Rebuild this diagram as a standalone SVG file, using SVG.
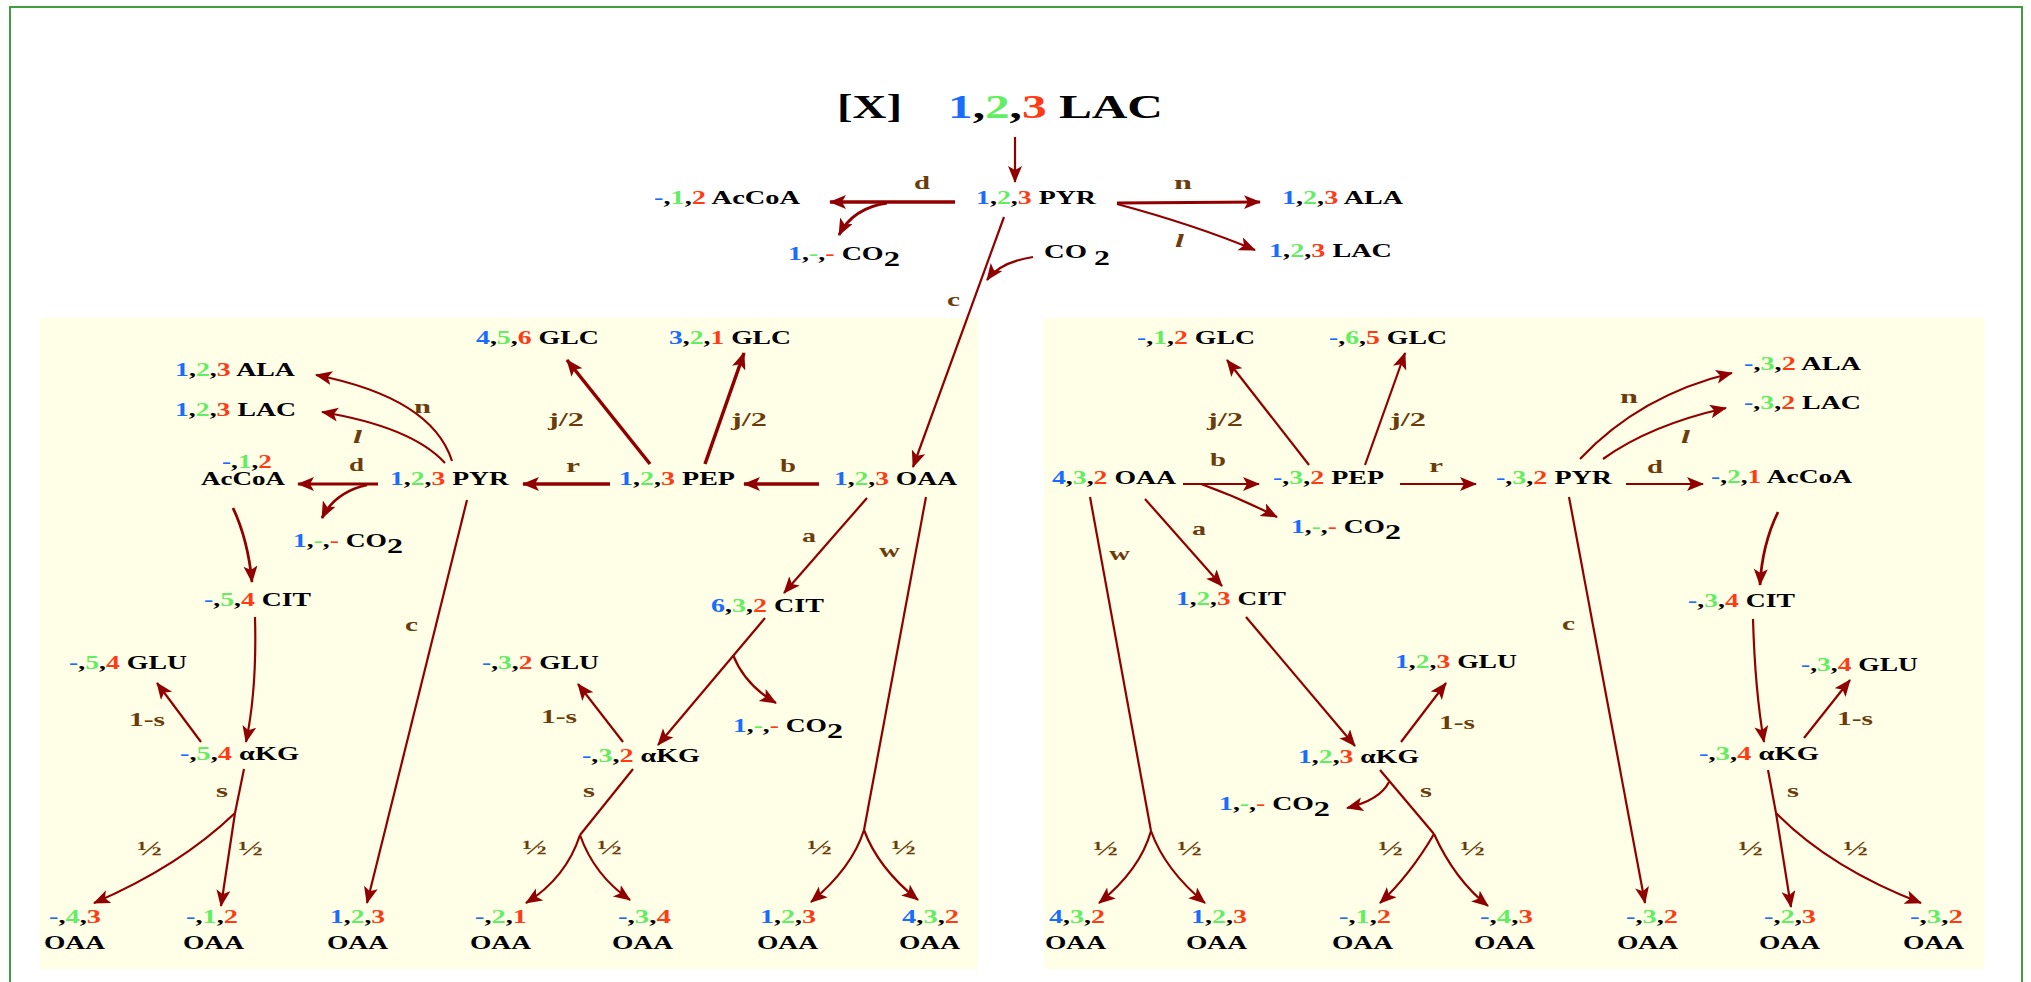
<svg xmlns="http://www.w3.org/2000/svg" width="2031" height="982" viewBox="0 0 2031 982">
  <defs>
    <style>
      text { font-family: "Liberation Serif", "Times New Roman", serif; font-weight: bold; font-size: 18px; fill: #000; }
      .big { font-size: 34px; }
      .b { fill: #1a6cff; }
      .g { fill: #62ee62; }
      .r { fill: #ff3b16; }
      .lb { fill: #6b3c0c; font-size: 19px; }
      .hf { fill: #6b3c0c; font-size: 22px; }
      .it { font-style: italic; }
      .ar { stroke: #900000; stroke-width: 2.2; fill: none; marker-end: url(#ah); }
      .tk { stroke-width: 3.5; }
      .md { stroke-width: 2.8; }
      .ln { stroke: #900000; stroke-width: 2.2; fill: none; }
      .panel { fill: #fffee6; }
    </style>
    <marker id="ah" markerUnits="userSpaceOnUse" markerWidth="20" markerHeight="16" refX="16" refY="7" orient="auto">
      <path d="M0,0 L17,7 L0,14 L4,7 Z" fill="#900000"/>
    </marker>
  </defs>

  <!-- frame and shaded panels -->
  <rect x="10" y="7" width="2012" height="1000" fill="#fff" stroke="#3f9e3f" stroke-width="2"/>
  <rect class="panel" x="40" y="318" width="938" height="651"/>
  <rect class="panel" x="1044" y="318" width="940" height="651"/>

  <!-- connectors -->
  <g id="connectors">
    <!-- top -->
    <line class="ar" x1="1015" y1="137" x2="1015" y2="182"/>
    <line class="ar tk" x1="955" y1="202" x2="830" y2="202"/>
    <path class="ar md" d="M887,203 Q853,208 839,235"/>
    <line class="ar md" x1="1117" y1="203" x2="1260" y2="202"/>
    <path class="ar" d="M1117,204 Q1195,225 1255,250"/>
    <line class="ar" x1="1004" y1="217" x2="913" y2="467"/>
    <path class="ar" d="M1033,257 Q1000,262 987,280"/>

    <!-- left panel -->
    <path class="ar" d="M452,461 Q432,398 316,375"/>
    <path class="ar" d="M445,463 Q412,427 322,412"/>
    <line class="ar md" x1="378" y1="484" x2="298" y2="484"/>
    <path class="ar md" d="M367,485 Q335,492 322,518"/>
    <line class="ar tk" x1="610" y1="484" x2="523" y2="484"/>
    <line class="ar tk" x1="650" y1="464" x2="567" y2="360"/>
    <line class="ar tk" x1="705" y1="464" x2="744" y2="353"/>
    <line class="ar tk" x1="819" y1="484" x2="744" y2="484"/>
    <line class="ar" x1="867" y1="498" x2="784" y2="593"/>
    <line class="ln" x1="926" y1="497" x2="864" y2="830"/>
    <path class="ar" d="M864,830 Q852,868 811,902"/>
    <path class="ar" d="M864,830 Q878,868 918,900"/>
    <path class="ar md" d="M233,508 Q248,540 252,582"/>
    <path class="ar" d="M255,617 Q257,690 246,742"/>
    <line class="ar" x1="201" y1="742" x2="157" y2="683"/>
    <line class="ln" x1="244" y1="769" x2="235" y2="813"/>
    <path class="ar" d="M235,813 Q180,866 94,903"/>
    <line class="ar" x1="235" y1="813" x2="221" y2="906"/>
    <line class="ar" x1="467" y1="500" x2="367" y2="903"/>
    <line class="ar" x1="765" y1="618" x2="658" y2="745"/>
    <path class="ar" d="M733,655 Q745,685 776,703"/>
    <line class="ar" x1="623" y1="742" x2="578" y2="684"/>
    <line class="ln" x1="633" y1="769" x2="580" y2="835"/>
    <path class="ar" d="M580,835 Q566,878 526,903"/>
    <path class="ar" d="M580,835 Q594,875 630,900"/>

    <!-- right panel -->
    <line class="ar" x1="1183" y1="484" x2="1259" y2="484"/>
    <path class="ar" d="M1201,484 Q1240,498 1277,517"/>
    <line class="ar" x1="1309" y1="465" x2="1227" y2="360"/>
    <line class="ar" x1="1365" y1="465" x2="1405" y2="353"/>
    <line class="ar" x1="1400" y1="484" x2="1476" y2="484"/>
    <line class="ar" x1="1145" y1="499" x2="1222" y2="586"/>
    <line class="ln" x1="1090" y1="497" x2="1151" y2="831"/>
    <path class="ar" d="M1151,831 Q1140,870 1099,903"/>
    <path class="ar" d="M1151,831 Q1165,870 1205,903"/>
    <line class="ar" x1="1246" y1="617" x2="1355" y2="746"/>
    <line class="ar" x1="1401" y1="742" x2="1446" y2="683"/>
    <path class="ar" d="M1389,782 Q1380,800 1347,808"/>
    <line class="ln" x1="1380" y1="770" x2="1434" y2="834"/>
    <path class="ar" d="M1434,834 Q1410,875 1380,903"/>
    <path class="ar" d="M1434,834 Q1455,880 1488,906"/>
    <line class="ar" x1="1569" y1="497" x2="1645" y2="903"/>
    <path class="ar" d="M1580,459 Q1640,395 1732,373"/>
    <path class="ar" d="M1603,459 Q1650,425 1726,408"/>
    <line class="ar" x1="1626" y1="484" x2="1703" y2="484"/>
    <path class="ar md" d="M1778,512 Q1762,545 1760,585"/>
    <path class="ar" d="M1753,619 Q1755,690 1764,742"/>
    <line class="ar" x1="1804" y1="738" x2="1850" y2="680"/>
    <line class="ln" x1="1768" y1="770" x2="1776" y2="813"/>
    <line class="ar" x1="1776" y1="813" x2="1791" y2="907"/>
    <path class="ar" d="M1776,813 Q1830,868 1921,903"/>
  </g>

  <!-- reaction labels -->
  <g id="labels">
    <text class="lb" x="914" y="189" textLength="16" lengthAdjust="spacingAndGlyphs">d</text>
    <text class="lb" x="1174" y="189" textLength="18" lengthAdjust="spacingAndGlyphs">n</text>
    <text class="lb it" x="1175" y="247" textLength="9" lengthAdjust="spacingAndGlyphs">l</text>
    <text class="lb" x="947" y="306" textLength="13" lengthAdjust="spacingAndGlyphs">c</text>

    <text class="lb" x="349" y="471" textLength="15" lengthAdjust="spacingAndGlyphs">d</text>
    <text class="lb" x="414" y="413" textLength="17" lengthAdjust="spacingAndGlyphs">n</text>
    <text class="lb it" x="353" y="443" textLength="9" lengthAdjust="spacingAndGlyphs">l</text>
    <text class="lb" x="566" y="472" textLength="14" lengthAdjust="spacingAndGlyphs">r</text>
    <text class="lb" x="780" y="472" textLength="16" lengthAdjust="spacingAndGlyphs">b</text>
    <text class="lb" x="548" y="426" textLength="36" lengthAdjust="spacingAndGlyphs">j/2</text>
    <text class="lb" x="731" y="426" textLength="36" lengthAdjust="spacingAndGlyphs">j/2</text>
    <text class="lb" x="802" y="542" textLength="14" lengthAdjust="spacingAndGlyphs">a</text>
    <text class="lb" x="879" y="557" textLength="21" lengthAdjust="spacingAndGlyphs">w</text>
    <text class="lb" x="405" y="631" textLength="13" lengthAdjust="spacingAndGlyphs">c</text>
    <text class="lb" x="129" y="726" textLength="36" lengthAdjust="spacingAndGlyphs">1-s</text>
    <text class="lb" x="216" y="797" textLength="12" lengthAdjust="spacingAndGlyphs">s</text>
    <text class="hf" x="137" y="855" textLength="25" lengthAdjust="spacingAndGlyphs">½</text>
    <text class="hf" x="238" y="855" textLength="25" lengthAdjust="spacingAndGlyphs">½</text>
    <text class="lb" x="541" y="723" textLength="36" lengthAdjust="spacingAndGlyphs">1-s</text>
    <text class="lb" x="583" y="797" textLength="12" lengthAdjust="spacingAndGlyphs">s</text>
    <text class="hf" x="522" y="854" textLength="25" lengthAdjust="spacingAndGlyphs">½</text>
    <text class="hf" x="597" y="854" textLength="25" lengthAdjust="spacingAndGlyphs">½</text>
    <text class="hf" x="807" y="854" textLength="25" lengthAdjust="spacingAndGlyphs">½</text>
    <text class="hf" x="891" y="854" textLength="25" lengthAdjust="spacingAndGlyphs">½</text>

    <text class="lb" x="1207" y="426" textLength="36" lengthAdjust="spacingAndGlyphs">j/2</text>
    <text class="lb" x="1390" y="426" textLength="36" lengthAdjust="spacingAndGlyphs">j/2</text>
    <text class="lb" x="1210" y="466" textLength="16" lengthAdjust="spacingAndGlyphs">b</text>
    <text class="lb" x="1429" y="472" textLength="14" lengthAdjust="spacingAndGlyphs">r</text>
    <text class="lb" x="1192" y="535" textLength="14" lengthAdjust="spacingAndGlyphs">a</text>
    <text class="lb" x="1109" y="560" textLength="21" lengthAdjust="spacingAndGlyphs">w</text>
    <text class="lb" x="1562" y="630" textLength="13" lengthAdjust="spacingAndGlyphs">c</text>
    <text class="lb" x="1439" y="729" textLength="36" lengthAdjust="spacingAndGlyphs">1-s</text>
    <text class="lb" x="1420" y="797" textLength="12" lengthAdjust="spacingAndGlyphs">s</text>
    <text class="hf" x="1378" y="855" textLength="25" lengthAdjust="spacingAndGlyphs">½</text>
    <text class="hf" x="1460" y="855" textLength="25" lengthAdjust="spacingAndGlyphs">½</text>
    <text class="hf" x="1093" y="855" textLength="25" lengthAdjust="spacingAndGlyphs">½</text>
    <text class="hf" x="1177" y="855" textLength="25" lengthAdjust="spacingAndGlyphs">½</text>
    <text class="lb" x="1620" y="403" textLength="18" lengthAdjust="spacingAndGlyphs">n</text>
    <text class="lb it" x="1681" y="443" textLength="9" lengthAdjust="spacingAndGlyphs">l</text>
    <text class="lb" x="1647" y="473" textLength="16" lengthAdjust="spacingAndGlyphs">d</text>
    <text class="lb" x="1837" y="725" textLength="36" lengthAdjust="spacingAndGlyphs">1-s</text>
    <text class="lb" x="1787" y="797" textLength="12" lengthAdjust="spacingAndGlyphs">s</text>
    <text class="hf" x="1738" y="855" textLength="25" lengthAdjust="spacingAndGlyphs">½</text>
    <text class="hf" x="1843" y="855" textLength="25" lengthAdjust="spacingAndGlyphs">½</text>
  </g>

  <!-- top: tracer and pyruvate branch point -->
  <g id="n-x"><text class="big" x="837" y="118" textLength="65" lengthAdjust="spacingAndGlyphs">[X]</text></g>
  <g id="n-lac-in"><text class="big" x="948" y="118" textLength="215" lengthAdjust="spacingAndGlyphs"><tspan class="b">1</tspan>,<tspan class="g">2</tspan>,<tspan class="r">3</tspan> LAC</text></g>
  <g id="n-pyr-top"><text x="976" y="204" textLength="120" lengthAdjust="spacingAndGlyphs"><tspan class="b">1</tspan>,<tspan class="g">2</tspan>,<tspan class="r">3</tspan> PYR</text></g>
  <g id="n-accoa-top"><text x="654" y="204" textLength="146" lengthAdjust="spacingAndGlyphs"><tspan class="b">-</tspan>,<tspan class="g">1</tspan>,<tspan class="r">2</tspan> AcCoA</text></g>
  <g id="n-ala-top"><text x="1282" y="204" textLength="121" lengthAdjust="spacingAndGlyphs"><tspan class="b">1</tspan>,<tspan class="g">2</tspan>,<tspan class="r">3</tspan> ALA</text></g>
  <g id="n-lac-top"><text x="1269" y="257" textLength="123" lengthAdjust="spacingAndGlyphs"><tspan class="b">1</tspan>,<tspan class="g">2</tspan>,<tspan class="r">3</tspan> LAC</text></g>
  <g id="n-co2-top"><text x="788" y="260" textLength="112" lengthAdjust="spacingAndGlyphs"><tspan class="b">1</tspan>,<tspan class="g">-</tspan>,<tspan class="r">-</tspan> CO<tspan dy="6" font-size="21">2</tspan></text></g>
  <g id="n-co2-fix"><text x="1044" y="258" textLength="66" lengthAdjust="spacingAndGlyphs">CO <tspan dy="7" font-size="20">2</tspan></text></g>

  <!-- left panel -->
  <g id="n-glc456"><text x="476" y="344" textLength="123" lengthAdjust="spacingAndGlyphs"><tspan class="b">4</tspan>,<tspan class="g">5</tspan>,<tspan class="r">6</tspan> GLC</text></g>
  <g id="n-glc321"><text x="669" y="344" textLength="122" lengthAdjust="spacingAndGlyphs"><tspan class="b">3</tspan>,<tspan class="g">2</tspan>,<tspan class="r">1</tspan> GLC</text></g>
  <g id="n-ala-l"><text x="175" y="376" textLength="120" lengthAdjust="spacingAndGlyphs"><tspan class="b">1</tspan>,<tspan class="g">2</tspan>,<tspan class="r">3</tspan> ALA</text></g>
  <g id="n-lac-l"><text x="175" y="416" textLength="121" lengthAdjust="spacingAndGlyphs"><tspan class="b">1</tspan>,<tspan class="g">2</tspan>,<tspan class="r">3</tspan> LAC</text></g>
  <g id="n-accoa-l">
    <text x="222" y="468" textLength="50" lengthAdjust="spacingAndGlyphs"><tspan class="b">-</tspan>,<tspan class="g">1</tspan>,<tspan class="r">2</tspan></text>
    <text x="201" y="485" textLength="84" lengthAdjust="spacingAndGlyphs">AcCoA</text>
  </g>
  <g id="n-pyr-l"><text x="390" y="485" textLength="119" lengthAdjust="spacingAndGlyphs"><tspan class="b">1</tspan>,<tspan class="g">2</tspan>,<tspan class="r">3</tspan> PYR</text></g>
  <g id="n-co2-l1"><text x="293" y="547" textLength="110" lengthAdjust="spacingAndGlyphs"><tspan class="b">1</tspan>,<tspan class="g">-</tspan>,<tspan class="r">-</tspan> CO<tspan dy="6" font-size="21">2</tspan></text></g>
  <g id="n-pep-l"><text x="619" y="485" textLength="116" lengthAdjust="spacingAndGlyphs"><tspan class="b">1</tspan>,<tspan class="g">2</tspan>,<tspan class="r">3</tspan> PEP</text></g>
  <g id="n-oaa-l"><text x="834" y="485" textLength="123" lengthAdjust="spacingAndGlyphs"><tspan class="b">1</tspan>,<tspan class="g">2</tspan>,<tspan class="r">3</tspan> OAA</text></g>
  <g id="n-cit-l1"><text x="204" y="606" textLength="107" lengthAdjust="spacingAndGlyphs"><tspan class="b">-</tspan>,<tspan class="g">5</tspan>,<tspan class="r">4</tspan> CIT</text></g>
  <g id="n-cit-l2"><text x="711" y="612" textLength="113" lengthAdjust="spacingAndGlyphs"><tspan class="b">6</tspan>,<tspan class="g">3</tspan>,<tspan class="r">2</tspan> CIT</text></g>
  <g id="n-glu-l1"><text x="69" y="669" textLength="118" lengthAdjust="spacingAndGlyphs"><tspan class="b">-</tspan>,<tspan class="g">5</tspan>,<tspan class="r">4</tspan> GLU</text></g>
  <g id="n-glu-l2"><text x="482" y="669" textLength="117" lengthAdjust="spacingAndGlyphs"><tspan class="b">-</tspan>,<tspan class="g">3</tspan>,<tspan class="r">2</tspan> GLU</text></g>
  <g id="n-co2-l2"><text x="733" y="732" textLength="110" lengthAdjust="spacingAndGlyphs"><tspan class="b">1</tspan>,<tspan class="g">-</tspan>,<tspan class="r">-</tspan> CO<tspan dy="6" font-size="21">2</tspan></text></g>
  <g id="n-akg-l1"><text x="180" y="760" textLength="119" lengthAdjust="spacingAndGlyphs"><tspan class="b">-</tspan>,<tspan class="g">5</tspan>,<tspan class="r">4</tspan> αKG</text></g>
  <g id="n-akg-l2"><text x="582" y="762" textLength="118" lengthAdjust="spacingAndGlyphs"><tspan class="b">-</tspan>,<tspan class="g">3</tspan>,<tspan class="r">2</tspan> αKG</text></g>

  <g id="n-oaa-l-a"><text x="49" y="923" textLength="52" lengthAdjust="spacingAndGlyphs"><tspan class="b">-</tspan>,<tspan class="g">4</tspan>,<tspan class="r">3</tspan></text><text x="44" y="949" textLength="61" lengthAdjust="spacingAndGlyphs">OAA</text></g>
  <g id="n-oaa-l-b"><text x="186" y="923" textLength="52" lengthAdjust="spacingAndGlyphs"><tspan class="b">-</tspan>,<tspan class="g">1</tspan>,<tspan class="r">2</tspan></text><text x="183" y="949" textLength="61" lengthAdjust="spacingAndGlyphs">OAA</text></g>
  <g id="n-oaa-l-c"><text x="330" y="923" textLength="55" lengthAdjust="spacingAndGlyphs"><tspan class="b">1</tspan>,<tspan class="g">2</tspan>,<tspan class="r">3</tspan></text><text x="327" y="949" textLength="61" lengthAdjust="spacingAndGlyphs">OAA</text></g>
  <g id="n-oaa-l-d"><text x="475" y="923" textLength="52" lengthAdjust="spacingAndGlyphs"><tspan class="b">-</tspan>,<tspan class="g">2</tspan>,<tspan class="r">1</tspan></text><text x="470" y="949" textLength="61" lengthAdjust="spacingAndGlyphs">OAA</text></g>
  <g id="n-oaa-l-e"><text x="618" y="923" textLength="53" lengthAdjust="spacingAndGlyphs"><tspan class="b">-</tspan>,<tspan class="g">3</tspan>,<tspan class="r">4</tspan></text><text x="612" y="949" textLength="61" lengthAdjust="spacingAndGlyphs">OAA</text></g>
  <g id="n-oaa-l-f"><text x="760" y="923" textLength="56" lengthAdjust="spacingAndGlyphs"><tspan class="b">1</tspan>,<tspan class="g">2</tspan>,<tspan class="r">3</tspan></text><text x="757" y="949" textLength="61" lengthAdjust="spacingAndGlyphs">OAA</text></g>
  <g id="n-oaa-l-g"><text x="902" y="923" textLength="57" lengthAdjust="spacingAndGlyphs"><tspan class="b">4</tspan>,<tspan class="g">3</tspan>,<tspan class="r">2</tspan></text><text x="899" y="949" textLength="61" lengthAdjust="spacingAndGlyphs">OAA</text></g>

  <!-- right panel -->
  <g id="n-glc12"><text x="1137" y="344" textLength="118" lengthAdjust="spacingAndGlyphs"><tspan class="b">-</tspan>,<tspan class="g">1</tspan>,<tspan class="r">2</tspan> GLC</text></g>
  <g id="n-glc65"><text x="1329" y="344" textLength="118" lengthAdjust="spacingAndGlyphs"><tspan class="b">-</tspan>,<tspan class="g">6</tspan>,<tspan class="r">5</tspan> GLC</text></g>
  <g id="n-oaa-r"><text x="1052" y="484" textLength="124" lengthAdjust="spacingAndGlyphs"><tspan class="b">4</tspan>,<tspan class="g">3</tspan>,<tspan class="r">2</tspan> OAA</text></g>
  <g id="n-pep-r"><text x="1273" y="484" textLength="111" lengthAdjust="spacingAndGlyphs"><tspan class="b">-</tspan>,<tspan class="g">3</tspan>,<tspan class="r">2</tspan> PEP</text></g>
  <g id="n-pyr-r"><text x="1496" y="484" textLength="116" lengthAdjust="spacingAndGlyphs"><tspan class="b">-</tspan>,<tspan class="g">3</tspan>,<tspan class="r">2</tspan> PYR</text></g>
  <g id="n-co2-r1"><text x="1291" y="533" textLength="110" lengthAdjust="spacingAndGlyphs"><tspan class="b">1</tspan>,<tspan class="g">-</tspan>,<tspan class="r">-</tspan> CO<tspan dy="6" font-size="21">2</tspan></text></g>
  <g id="n-cit-r1"><text x="1176" y="605" textLength="110" lengthAdjust="spacingAndGlyphs"><tspan class="b">1</tspan>,<tspan class="g">2</tspan>,<tspan class="r">3</tspan> CIT</text></g>
  <g id="n-glu-r1"><text x="1395" y="668" textLength="122" lengthAdjust="spacingAndGlyphs"><tspan class="b">1</tspan>,<tspan class="g">2</tspan>,<tspan class="r">3</tspan> GLU</text></g>
  <g id="n-akg-r1"><text x="1298" y="763" textLength="121" lengthAdjust="spacingAndGlyphs"><tspan class="b">1</tspan>,<tspan class="g">2</tspan>,<tspan class="r">3</tspan> αKG</text></g>
  <g id="n-co2-r2"><text x="1219" y="810" textLength="111" lengthAdjust="spacingAndGlyphs"><tspan class="b">1</tspan>,<tspan class="g">-</tspan>,<tspan class="r">-</tspan> CO<tspan dy="6" font-size="21">2</tspan></text></g>
  <g id="n-ala-r"><text x="1744" y="370" textLength="117" lengthAdjust="spacingAndGlyphs"><tspan class="b">-</tspan>,<tspan class="g">3</tspan>,<tspan class="r">2</tspan> ALA</text></g>
  <g id="n-lac-r"><text x="1744" y="409" textLength="117" lengthAdjust="spacingAndGlyphs"><tspan class="b">-</tspan>,<tspan class="g">3</tspan>,<tspan class="r">2</tspan> LAC</text></g>
  <g id="n-accoa-r"><text x="1711" y="483" textLength="141" lengthAdjust="spacingAndGlyphs"><tspan class="b">-</tspan>,<tspan class="g">2</tspan>,<tspan class="r">1</tspan> AcCoA</text></g>
  <g id="n-cit-r2"><text x="1688" y="607" textLength="107" lengthAdjust="spacingAndGlyphs"><tspan class="b">-</tspan>,<tspan class="g">3</tspan>,<tspan class="r">4</tspan> CIT</text></g>
  <g id="n-glu-r2"><text x="1801" y="671" textLength="117" lengthAdjust="spacingAndGlyphs"><tspan class="b">-</tspan>,<tspan class="g">3</tspan>,<tspan class="r">4</tspan> GLU</text></g>
  <g id="n-akg-r2"><text x="1699" y="760" textLength="120" lengthAdjust="spacingAndGlyphs"><tspan class="b">-</tspan>,<tspan class="g">3</tspan>,<tspan class="r">4</tspan> αKG</text></g>

  <g id="n-oaa-r-a"><text x="1049" y="923" textLength="56" lengthAdjust="spacingAndGlyphs"><tspan class="b">4</tspan>,<tspan class="g">3</tspan>,<tspan class="r">2</tspan></text><text x="1045" y="949" textLength="61" lengthAdjust="spacingAndGlyphs">OAA</text></g>
  <g id="n-oaa-r-b"><text x="1191" y="923" textLength="56" lengthAdjust="spacingAndGlyphs"><tspan class="b">1</tspan>,<tspan class="g">2</tspan>,<tspan class="r">3</tspan></text><text x="1186" y="949" textLength="61" lengthAdjust="spacingAndGlyphs">OAA</text></g>
  <g id="n-oaa-r-c"><text x="1339" y="923" textLength="52" lengthAdjust="spacingAndGlyphs"><tspan class="b">-</tspan>,<tspan class="g">1</tspan>,<tspan class="r">2</tspan></text><text x="1332" y="949" textLength="61" lengthAdjust="spacingAndGlyphs">OAA</text></g>
  <g id="n-oaa-r-d"><text x="1480" y="923" textLength="53" lengthAdjust="spacingAndGlyphs"><tspan class="b">-</tspan>,<tspan class="g">4</tspan>,<tspan class="r">3</tspan></text><text x="1474" y="949" textLength="61" lengthAdjust="spacingAndGlyphs">OAA</text></g>
  <g id="n-oaa-r-e"><text x="1626" y="923" textLength="52" lengthAdjust="spacingAndGlyphs"><tspan class="b">-</tspan>,<tspan class="g">3</tspan>,<tspan class="r">2</tspan></text><text x="1617" y="949" textLength="61" lengthAdjust="spacingAndGlyphs">OAA</text></g>
  <g id="n-oaa-r-f"><text x="1764" y="923" textLength="52" lengthAdjust="spacingAndGlyphs"><tspan class="b">-</tspan>,<tspan class="g">2</tspan>,<tspan class="r">3</tspan></text><text x="1759" y="949" textLength="61" lengthAdjust="spacingAndGlyphs">OAA</text></g>
  <g id="n-oaa-r-g"><text x="1910" y="923" textLength="53" lengthAdjust="spacingAndGlyphs"><tspan class="b">-</tspan>,<tspan class="g">3</tspan>,<tspan class="r">2</tspan></text><text x="1903" y="949" textLength="61" lengthAdjust="spacingAndGlyphs">OAA</text></g>
</svg>
